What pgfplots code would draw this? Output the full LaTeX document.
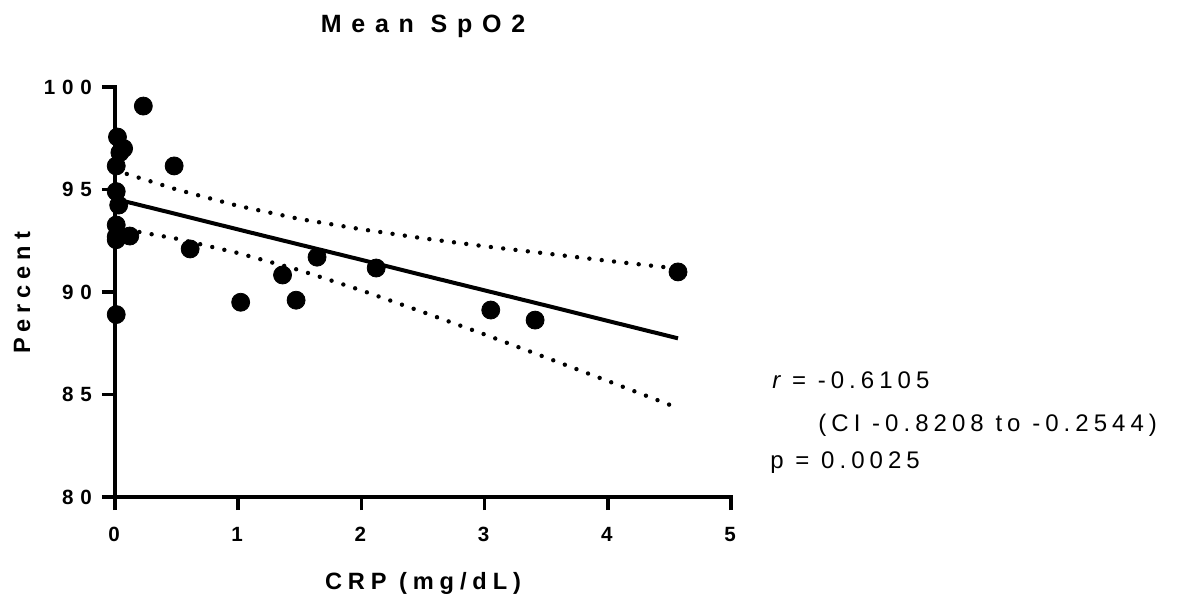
\documentclass[border=0pt]{standalone}
\usepackage{fontspec}
\setmainfont{Liberation Sans}
\newfontfamily\ticksfont[LetterSpace=33]{Liberation Sans Bold}
\newfontfamily\titlefont[LetterSpace=39]{Liberation Sans Bold}
\newfontfamily\labelfont[LetterSpace=25]{Liberation Sans Bold}
\newfontfamily\statfont[LetterSpace=21]{Liberation Sans}
\newfontfamily\statital[LetterSpace=21]{Liberation Sans Italic}
\usepackage{pgfplots}
\pgfplotsset{compat=1.18}

% CRP vs mean SpO2
\pgfplotstableread{
x y
0.23 99.07
0.02 97.56
0.04 96.80
0.07 97.00
0.01 96.15
0.48 96.15
0.01 94.90
0.03 94.24
0.01 93.27
0.01 92.70
0.01 92.55
0.12 92.73
0.61 92.10
0.01 88.90
1.02 89.50
1.36 90.83
1.47 89.60
1.64 91.70
2.12 91.17
3.05 89.12
3.41 88.63
4.57 90.98
}\pts

% linear fit and its 95% confidence band
\pgfplotstableread{
x yhat upper lower
0.00 94.54 95.94 93.14
0.50 93.80 95.00 92.60
1.00 93.05 94.20 91.90
1.50 92.31 93.56 91.06
2.00 91.57 93.06 90.08
2.50 90.82 92.62 89.02
3.00 90.08 92.23 87.93
3.50 89.34 91.88 86.80
4.00 88.59 91.52 85.66
4.57 87.74 91.14 84.34
}\fit

\begin{document}
\begin{tikzpicture}
\useasboundingbox (-57.5pt,-52pt) rectangle (531.5pt,248.5pt);
\begin{axis}[
  at={(0,0)}, anchor=origin,
  scale only axis, width=308pt, height=205pt,
  xmin=0, xmax=5, ymin=80, ymax=100,
  axis x line=bottom, axis y line=left,
  axis line style={-, line width=1.75pt, line cap=rect},
  xtick={0,1,2,3,4,5}, ytick={80,85,90,95,100},
  xticklabels={0,1,2,3,4,5}, yticklabels={80,85,90,95,100},
  tick align=outside, major tick length=6.5pt,
  tick style={line width=1.75pt, black},
  ticklabel style={font=\fontsize{10.3pt}{12pt}\ticksfont},
  xticklabel style={yshift=-5pt, xshift=-0.5pt},
  yticklabel style={xshift=-1.5pt},
  clip=false,
]
\addplot[black, line width=2.2pt, line cap=round, dash pattern=on 0pt off 6.2pt]
  table[x=x, y=upper] {\fit};
\addplot[black, line width=2.2pt, line cap=round, dash pattern=on 0pt off 6.2pt]
  table[x=x, y=lower] {\fit};
\addplot[black, line width=2pt] table[x=x, y=yhat] {\fit};
\addplot[only marks, mark=*, mark size=4.5pt, black] table[x=x, y=y] {\pts};
\end{axis}
\node[font=\fontsize{12.5pt}{14pt}\titlefont] at (154pt,235.5pt) {Mean SpO2};
\node[font=\fontsize{11.8pt}{14pt}\labelfont] at (154pt,-43pt) {CRP (mg/dL)};
\node[font=\fontsize{11.8pt}{14pt}\labelfont, rotate=90] at (-46.5pt,102pt) {Percent};
\node[anchor=base west, inner sep=0pt, font=\fontsize{12pt}{14pt}\statfont] at (328.5pt,54.5pt) {{\statital r} = -0.6105};
\node[anchor=base west, inner sep=0pt, font=\fontsize{12pt}{14pt}\statfont] at (351.5pt,33pt) {(CI -0.8208 to -0.2544)};
\node[anchor=base west, inner sep=0pt, font=\fontsize{12pt}{14pt}\statfont] at (327.5pt,14.5pt) {p = 0.0025};
\end{tikzpicture}
\end{document}
